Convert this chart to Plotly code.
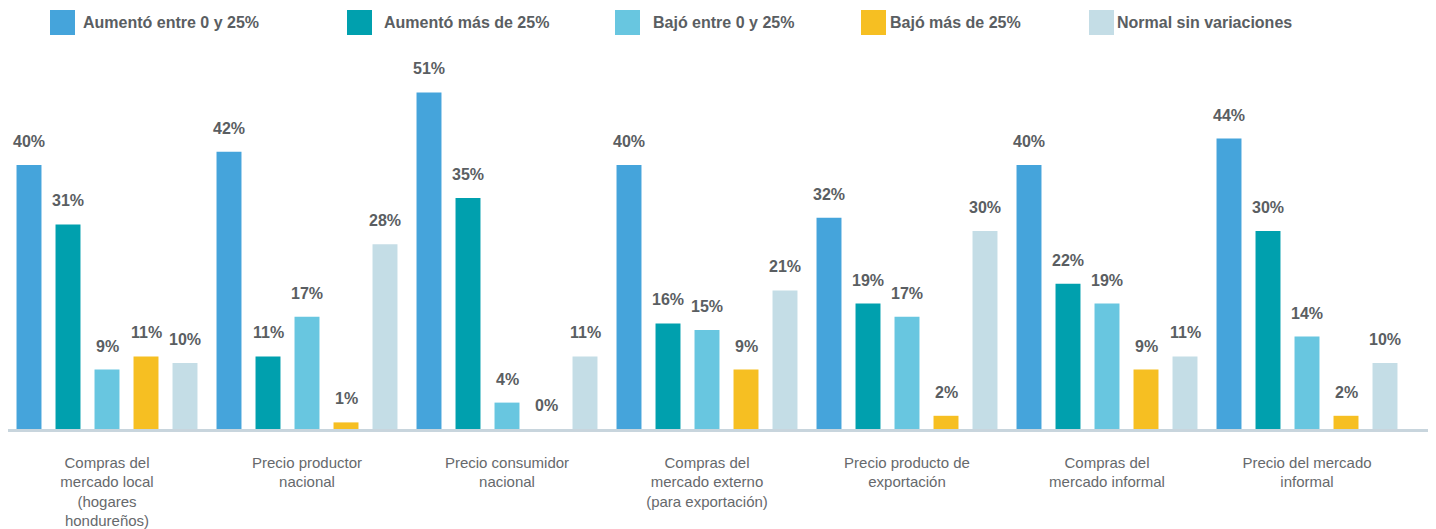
import plotly.graph_objects as go

categories = [
    "Compras del<br>mercado local<br>(hogares<br>hondureños)",
    "Precio productor<br>nacional",
    "Precio consumidor<br>nacional",
    "Compras del<br>mercado externo<br>(para exportación)",
    "Precio producto de<br>exportación",
    "Compras del<br>mercado informal",
    "Precio del mercado<br>informal",
]
series_names = [
    "Aumentó entre 0 y 25%",
    "Aumentó más de 25%",
    "Bajó entre 0 y 25%",
    "Bajó más de 25%",
    "Normal sin variaciones",
]
aumento_0_25 = [40, 42, 51, 40, 32, 40, 44]
aumento_mas_25 = [31, 11, 35, 16, 19, 22, 30]
bajo_0_25 = [9, 17, 4, 15, 17, 19, 14]
bajo_mas_25 = [11, 1, 0, 9, 2, 9, 2]
normal = [10, 28, 11, 21, 30, 11, 10]
series_values = [aumento_0_25, aumento_mas_25, bajo_0_25, bajo_mas_25, normal]
colors = ["#45a4db", "#00a0ae", "#68c6e0", "#f6bf22", "#c4dde6"]

# page has an 8px body margin; compensate so the figure lands where the reference is
OFF = 8
W, H = 1436 - OFF, 529 - OFF
ML, MR = 0, 0
BASE_PAGE_Y = 429          # baseline in page pixels
TOP_PAGE_Y = 33            # plot top in page pixels
MT = TOP_PAGE_Y - OFF
MB = H - (BASE_PAGE_Y - OFF)
PW = W - ML - MR
PH = H - MT - MB
YMAX = 60
CAT_PX = 200               # px per category
SLOT = 39                  # px per bar slot inside a group
FIRST_CENTER_PAGE_X = 107  # centre of first group in page pixels

x_start = -0.5 - (FIRST_CENTER_PAGE_X - OFF - ML - CAT_PX / 2) / CAT_PX
x_end = x_start + PW / CAT_PX

fig = go.Figure()
for name, vals, col in zip(series_names, series_values, colors):
    fig.add_trace(go.Bar(x=categories, y=vals, name=name, marker_color=col,
                         marker_line_width=0, showlegend=False))

FONT = "Liberation Sans, Arial, Helvetica, sans-serif"
label_font = dict(family=FONT, size=16, color="#5a5e62")
annotations = []
for i, vals in enumerate(series_values):
    for c, v in zip(categories, vals):
        annotations.append(dict(
            x=c, y=v, xref="x", yref="y", text=f"<b>{v}%</b>", showarrow=False,
            xanchor="center", yanchor="bottom", xshift=(i - 2) * SLOT, yshift=13,
            font=label_font))

# manual legend (large squares), positions in page pixels
def px_to_paper_x(px):
    return (px - OFF - ML) / PW

def py_to_paper_y(py):
    return (BASE_PAGE_Y - py) / PH

legend_sq_x = [50, 347, 615, 861, 1089]
legend_txt_x = [81, 382, 651, 888, 1115]
shapes = []
for sx, tx, name, col in zip(legend_sq_x, legend_txt_x, series_names, colors):
    shapes.append(dict(type="rect", xref="paper", yref="paper",
                       x0=px_to_paper_x(sx), x1=px_to_paper_x(sx + 25),
                       y0=py_to_paper_y(35), y1=py_to_paper_y(10),
                       fillcolor=col, line_width=0))
    annotations.append(dict(x=px_to_paper_x(tx), y=py_to_paper_y(22), xref="paper", yref="paper",
                            text=f"<b>{name}</b>", showarrow=False, xanchor="left", yanchor="middle",
                            font=dict(family=FONT, size=16, color="#5a5e62")))

fig.update_layout(
    width=W, height=H,
    margin=dict(l=ML, r=MR, t=MT, b=MB, pad=0, autoexpand=False),
    paper_bgcolor="white", plot_bgcolor="white",
    barmode="group", bargap=0.025, bargroupgap=0.36,
    showlegend=False,
    annotations=annotations, shapes=shapes,
    xaxis=dict(type="category", range=[x_start, x_end], automargin=False,
               showline=True, linecolor="#c8d5dd", linewidth=2.5,
               ticks="outside", ticklen=18, tickcolor="rgba(0,0,0,0)",
               tickfont=dict(family=FONT, size=15, color="#66696c"),
               showgrid=False, zeroline=False),
    yaxis=dict(range=[0, YMAX], visible=False, automargin=False,
               showgrid=False, zeroline=False),
)

fig.write_html("out.html")
